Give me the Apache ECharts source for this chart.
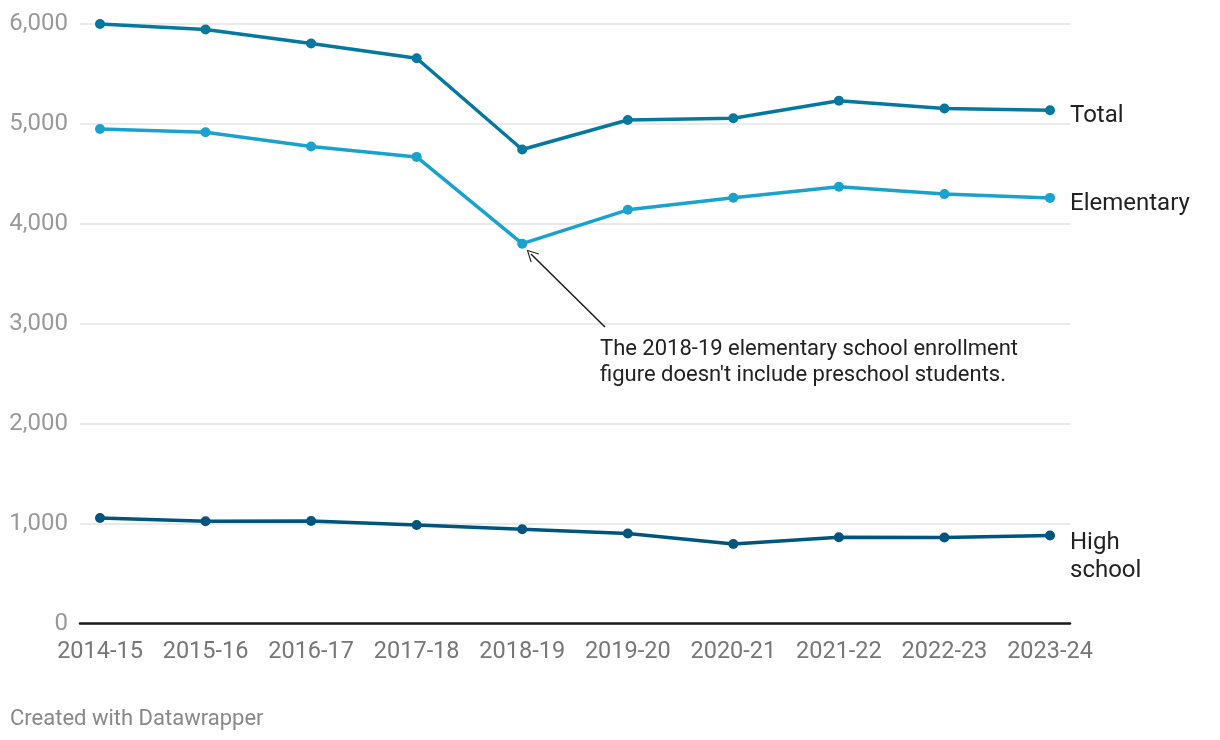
<!DOCTYPE html>
<html><head><meta charset="utf-8">
<script src="https://cdn.jsdelivr.net/npm/echarts@6/dist/echarts.min.js"></script>
<style>html,body{margin:0;padding:0;background:#fff}#c{width:1220px;height:740px}</style>
</head><body><div id="c"></div>
<script>
const categories = ['2014-15','2015-16','2016-17','2017-18','2018-19','2019-20','2020-21','2021-22','2022-23','2023-24'];
const total = [5995, 5940, 5800, 5653, 4740, 5035, 5052, 5227, 5150, 5132];
const elementary = [4945, 4912, 4770, 4666, 3798, 4137, 4257, 4367, 4294, 4256];
const highSchool = [1055, 1022, 1025, 985, 942, 900, 795, 863, 860, 880];
const yTicks = [0, 1000, 2000, 3000, 4000, 5000, 6000];
const noteText = "The 2018-19 elementary school enrollment\nfigure doesn't include preschool students.";
// annotation arrow: from note (category index, value) to near the 2018-19 elementary point
const arrowFrom = [4.784, 2965];
const arrowTo = [4.083, 3695];

const FONT = 'Roboto';
const gTop = 23.5, gBottom = 116.5;
const chart = echarts.init(document.getElementById('c'), null, {renderer: 'canvas'});

function lineSeries(name, data, color, extra) {
  return Object.assign({
    name, type: 'line', data, xAxisIndex: 1, yAxisIndex: 1,
    symbol: 'circle', symbolSize: 10, showSymbol: true,
    lineStyle: {color, width: 3.5}, itemStyle: {color},
    emphasis: {disabled: true}, animation: false, z: 3
  }, extra || {});
}
const endLbl = (text, off) => ({show: true, formatter: text, color: '#222', fontFamily: FONT, fontSize: 24, distance: 20, lineHeight: 28, offset: off});

chart.setOption({
  animation: false,
  textStyle: {fontFamily: FONT},
  title: {text: 'Created with Datawrapper', left: 5, top: 703,
    textStyle: {color: '#888', fontSize: 22, fontWeight: 'normal', fontFamily: FONT}},
  grid: [
    {left: 80, right: 150, top: gTop, bottom: gBottom, containLabel: false},
    {left: 100, right: 170, top: gTop, bottom: gBottom, containLabel: false}
  ],
  xAxis: [
    {gridIndex: 0, type: 'category', data: categories, boundaryGap: false, show: true,
      axisLine: {show: true, lineStyle: {color: '#1a1a1a', width: 2.5}}, axisTick: {show: false}, axisLabel: {show: false}, splitLine: {show: false}},
    {gridIndex: 1, type: 'category', data: categories, boundaryGap: false,
      axisLine: {show: false}, axisTick: {show: false}, splitLine: {show: false},
      axisLabel: {color: '#777', fontSize: 23.5, fontFamily: FONT, margin: 17, interval: 0, hideOverlap: false}},
    {gridIndex: 1, type: 'value', min: 0, max: categories.length - 1, show: false}
  ],
  yAxis: [
    {gridIndex: 0, type: 'value', min: yTicks[0], max: yTicks[yTicks.length-1], interval: 1000,
      axisLine: {show: false}, axisTick: {show: false},
      axisLabel: {color: '#999', fontSize: 24, fontFamily: FONT, margin: 12,
        formatter: v => v.toLocaleString('en-US')},
      splitLine: {show: true, lineStyle: {color: '#e3e3e3', width: 1.5}}},
    {gridIndex: 1, type: 'value', min: yTicks[0], max: yTicks[yTicks.length-1], interval: 1000, show: false}
  ],
  series: [
    lineSeries('Total', total, '#05789f', {endLabel: endLbl('Total', [0, 6])}),
    lineSeries('Elementary', elementary, '#1aa2cf', {endLabel: endLbl('Elementary', [0, 6])}),
    lineSeries('High school', highSchool, '#00557e', {endLabel: endLbl('High\nschool', [0, 21])}),
    {
      type: 'lines', coordinateSystem: 'cartesian2d', xAxisIndex: 2, yAxisIndex: 1,
      silent: true, animation: false, z: 4,
      symbol: ['none', 'path://M10,0 L20,16 L18.5,17 L10,3.2 L1.5,17 L0,16 Z'],
      symbolSize: [15, 12],
      lineStyle: {color: '#1a1a1a', width: 1.5, opacity: 1},
      data: [{coords: [arrowFrom, arrowTo]}]
    }
  ],
  graphic: [
    {type: 'text', left: 600, top: 336, silent: true,
      style: {text: noteText, fill: '#222', font: '22px Roboto', lineHeight: 26}}
  ]
});
</script></body></html>
